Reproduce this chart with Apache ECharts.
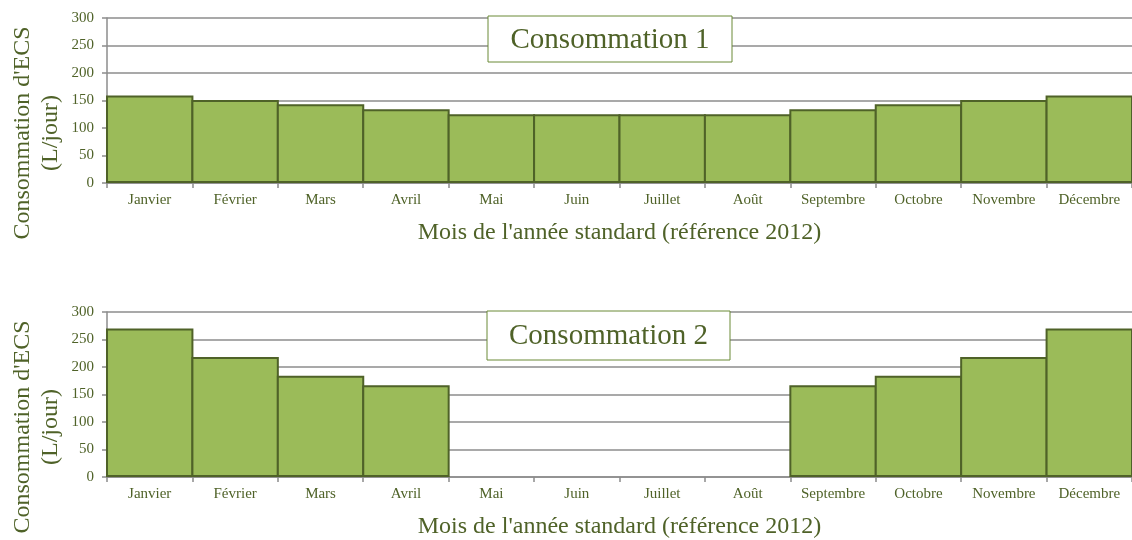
<!DOCTYPE html>
<html>
<head>
<meta charset="utf-8">
<script src="https://cdn.jsdelivr.net/npm/echarts@6/dist/echarts.min.js"></script>
<style>
html,body{margin:0;padding:0;background:#fff;}
#chart{width:1132px;height:540px;}
</style>
</head>
<body>
<div id="chart"></div>
<script>
const categories = ['Janvier','Février','Mars','Avril','Mai','Juin','Juillet','Août','Septembre','Octobre','Novembre','Décembre'];
const conso1 = [159,151,143,134,125,125,125,125,134,143,151,159];
const conso2 = [270,218,184,167,0,0,0,0,167,184,218,270];
const yTicks = [0,50,100,150,200,250,300];
const titles = ['Consommation 1','Consommation 2'];
const xTitle = "Mois de l'année standard (référence 2012)";
const yTitle = "Consommation d'ECS\n(L/jour)";

const FONT = '"Liberation Serif", "Times New Roman", serif';
const TXT = '#4F6228';
const GRAY = '#8c8c8c';
const W = 1132, LEFT = 107;
const BORDER = 2;
const barW = (W - LEFT) / categories.length + BORDER;

const chart = echarts.init(document.getElementById('chart'), null, {renderer:'canvas'});

const grids = [
  {left:LEFT, right:0, top:18, height:165},
  {left:LEFT, right:0, top:312, height:166}
];

function xAxis(i){
  return {
    type:'category', gridIndex:i, data:categories,
    boundaryGap:true,
    axisLine:{show:true, lineStyle:{color:GRAY, width:1.5}},
    axisTick:{show:true, length:5, lineStyle:{color:GRAY, width:1.5}},
    axisLabel:{color:TXT, fontFamily:FONT, fontSize:15, margin:10, interval:0},
    name:xTitle, nameLocation:'middle', nameGap:38,
    nameTextStyle:{color:TXT, fontFamily:FONT, fontSize:24}
  };
}
function yAxis(i){
  return {
    type:'value', gridIndex:i, min:yTicks[0], max:yTicks[yTicks.length-1], interval:50,
    axisLine:{show:true, lineStyle:{color:GRAY, width:1.5}},
    axisTick:{show:true, length:5, lineStyle:{color:GRAY, width:1.5}},
    axisLabel:{color:TXT, fontFamily:FONT, fontSize:15, margin:13},
    splitLine:{show:true, lineStyle:{color:GRAY, width:1.5}}
  };
}
function series(i, arr){
  return {
    type:'bar', xAxisIndex:i, yAxisIndex:i,
    barWidth:barW, barGap:0,
    data: arr.map(v => v === 0 ? {value:v, itemStyle:{borderWidth:0}} : v),
    itemStyle:{color:'#9BBB59', borderColor:'#4F6228', borderWidth:BORDER},
    emphasis:{disabled:true}, animation:false
  };
}
function titleBox(i, x, y, w, h){
  return {
    type:'group', z:100,
    children:[
      {type:'rect', shape:{x:x, y:y, width:w, height:h}, style:{fill:'#fff', stroke:'#6b8a36', lineWidth:1}, z:100},
      {type:'text', x:x+w/2, y:y+h/2+1, z:101, style:{text:titles[i], fill:TXT, font:'29px ' + FONT, align:'center', verticalAlign:'middle'}}
    ]
  };
}
function yTitleText(cy){
  return {
    type:'text', x:37, y:cy, rotation:Math.PI/2, z:100,
    style:{text:yTitle, fill:TXT, font:'24px ' + FONT, align:'center', verticalAlign:'middle', lineHeight:28}
  };
}

chart.setOption({
  animation:false,
  grid:grids,
  xAxis:[xAxis(0), xAxis(1)],
  yAxis:[yAxis(0), yAxis(1)],
  series:[series(0, conso1), series(1, conso2)],
  graphic:[
    titleBox(0, 488, 16, 244, 46),
    titleBox(1, 487, 311, 243, 49),
    yTitleText(133),
    yTitleText(427)
  ]
});
</script>
</body>
</html>
